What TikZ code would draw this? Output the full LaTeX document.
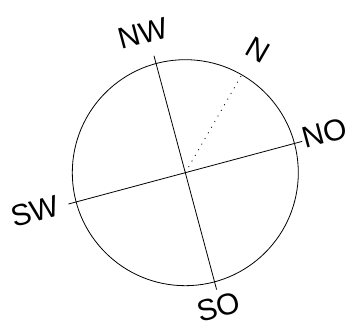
\documentclass[tikz,border=0pt]{standalone}
\usepackage{fontspec}
\setsansfont{Liberation Sans}
\usetikzlibrary{calc}

\tikzset{
  axis/.style={line width=0.8pt},
  wind/.style={font=\sffamily\fontsize{30}{30}\selectfont, inner sep=0pt, rotate=15}
}

\begin{document}
\begin{tikzpicture}[x=1pt,y=1pt]
        \useasboundingbox (0,0) rectangle (356,328);
        \coordinate (M) at (185.3,155.3);
        \draw[axis] (M) circle (113);
        % Line ends, turned by 15 degrees.
            \coordinate (no) at ($(M)+(15:121)$);
            \coordinate (nw) at ($(M)+(105:121)$);
            \coordinate (sw) at ($(M)+(195:121)$);
            \coordinate (so) at ($(M)+(285:121)$);
            \coordinate (n) at ($(M)+(60:116)$);
        \draw[axis] (sw) -- (no);
        \draw[axis] (so) -- (nw);
        \draw[axis, dash pattern=on 1pt off 5.5pt] (M) -- (n);
        % Below nodes are the labels.
            \node[wind] (lnw) at (143.3,294.7) {NW};
            \node[wind, rotate=-45] (ln) at (258.3,278) {N};
            \node[wind] (lno) at (325,195) {NO};
            \node[wind] (lsw) at (35,116.3) {SW};
            \node[wind] (lso) at (218.3,21.3) {SO};
    \end{tikzpicture}
\end{document}
